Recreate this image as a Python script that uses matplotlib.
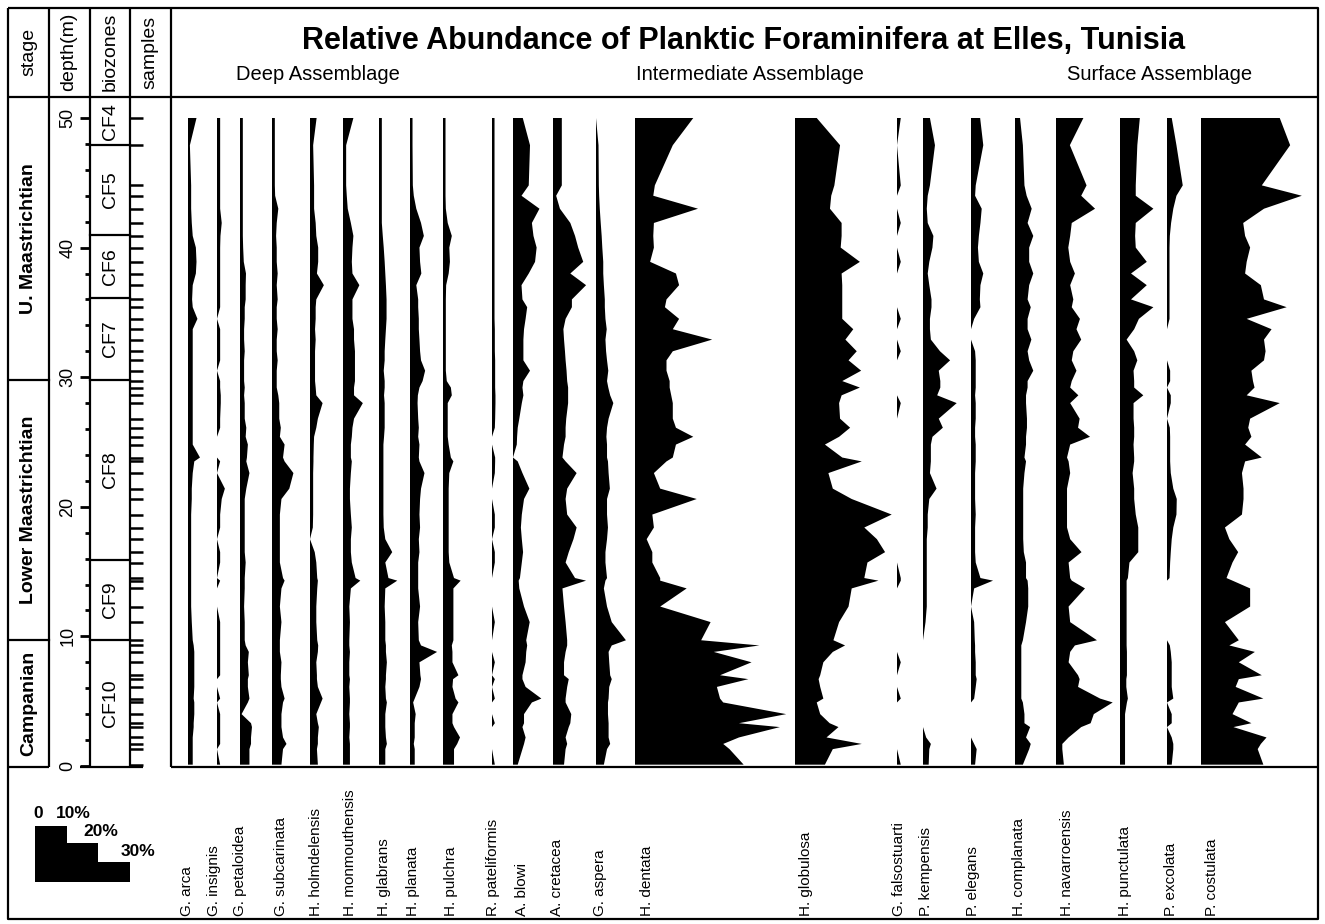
import numpy as np
import matplotlib.pyplot as plt

plt.rcParams['font.family'] = ['Liberation Sans', 'DejaVu Sans']

# sample depths (m), bottom to top
depth_m = [0.1, 1.3, 1.7, 2.2, 3.0, 3.3, 4.0, 4.9, 5.2, 6.1,
           6.7, 7.0, 8.0, 8.8, 9.3, 9.7, 11.1, 12.3, 13.7, 14.3,
           14.5, 15.7, 16.5, 17.5, 18.4, 19.4, 20.6, 21.4, 22.6, 23.5,
           23.8, 24.8, 25.4, 26.1, 26.8, 28.0, 28.6, 29.2, 29.7, 30.5,
           31.3, 32.0, 32.9, 33.7, 34.5, 35.4, 36.0, 37.1, 38.0, 38.9,
           40.0, 40.9, 41.9, 43.0, 44.0, 44.8, 47.9, 50.0]

# relative abundance (%) per species at each sample depth
g_arca = [1.5, 1.5, 1.5, 1.5, 1.8, 1.8, 2.0, 2.0, 1.8, 2.0,
          2.0, 2.0, 2.0, 2.0, 1.8, 1.5, 1.2, 1.0, 1.0, 1.0,
          1.0, 1.0, 1.0, 1.0, 1.0, 1.0, 1.2, 1.2, 1.5, 2.0,
          3.8, 1.5, 1.5, 1.5, 1.5, 1.5, 1.5, 1.5, 1.5, 1.5,
          1.5, 1.5, 1.5, 1.5, 3.0, 1.5, 1.3, 1.5, 2.5, 2.7,
          2.5, 1.5, 1.2, 1.0, 1.0, 1.0, 0.6, 2.7]
g_insignis = [1.0, 0, 1.0, 1.0, 1.0, 1.0, 1.0, 0, 1.0, 0,
              0, 1.0, 1.0, 1.0, 1.0, 1.0, 1.0, 0, 0, 1.0,
              0, 1.0, 1.0, 0, 1.0, 1.0, 1.5, 2.5, 0, 1.0,
              0, 0, 0, 1.0, 1.0, 1.2, 1.2, 1.0, 1.0, 0,
              1.0, 1.0, 1.0, 1.0, 0, 1.0, 1.0, 1.0, 1.0, 1.0,
              1.0, 1.1, 1.5, 1.0, 1.0, 1.0, 1.0, 1.0]
g_petaloidea = [3.0, 3.0, 3.5, 3.5, 3.8, 3.5, 0.5, 2.5, 3.0, 2.5,
                2.5, 2.8, 2.5, 2.8, 1.8, 1.5, 1.5, 1.3, 1.5, 1.5,
                1.5, 1.8, 1.5, 1.5, 1.5, 1.5, 1.5, 2.0, 3.0, 2.0,
                2.2, 2.5, 1.8, 2.0, 1.5, 1.5, 1.3, 1.5, 1.3, 1.3,
                1.3, 1.5, 1.3, 1.3, 1.5, 1.5, 1.8, 1.8, 1.9, 1.2,
                1.0, 0.9, 0.9, 0.9, 0.9, 0.9, 0.9, 0.9]
g_subcarinata = [3.0, 3.5, 4.6, 3.5, 3.0, 3.0, 3.0, 3.5, 4.0, 3.0,
                 2.8, 2.8, 3.0, 2.5, 2.5, 2.5, 3.0, 2.5, 3.0, 4.0,
                 3.5, 2.5, 2.5, 2.5, 2.5, 2.5, 3.0, 5.5, 6.8, 4.0,
                 3.5, 4.0, 2.5, 2.8, 2.3, 2.3, 2.0, 1.5, 1.5, 1.5,
                 1.8, 1.5, 1.5, 1.8, 1.5, 1.5, 1.8, 1.5, 1.8, 1.5,
                 1.5, 1.3, 1.5, 2.0, 1.0, 0.9, 0.9, 0.9]
h_holmdelensis = [2.5, 2.2, 2.5, 2.5, 2.8, 2.5, 2.0, 3.5, 4.0, 2.5,
                  2.2, 2.2, 2.0, 2.5, 2.6, 2.3, 2.0, 2.0, 2.3, 2.5,
                  2.3, 2.0, 1.5, 0.0, 0.9, 1.0, 1.0, 1.0, 1.0, 1.1,
                  1.1, 1.2, 1.3, 2.0, 2.5, 4.0, 2.0, 1.8, 1.6, 1.6,
                  1.6, 1.6, 1.8, 1.6, 1.8, 1.8, 2.0, 4.4, 2.2, 2.6,
                  2.6, 2.0, 1.8, 1.3, 1.3, 1.3, 1.0, 2.1]
h_monmouthensis = [2.2, 2.2, 2.2, 2.0, 2.2, 2.2, 2.0, 2.2, 2.2, 2.0,
                   2.2, 2.0, 2.0, 2.2, 2.0, 2.0, 2.2, 2.0, 2.5, 5.5,
                   4.0, 2.8, 2.5, 2.5, 2.8, 2.5, 2.2, 2.2, 2.5, 2.8,
                   2.5, 2.5, 2.8, 3.0, 3.5, 6.3, 3.5, 3.5, 3.8, 3.8,
                   3.8, 3.8, 3.5, 3.5, 3.0, 3.0, 3.0, 5.2, 3.0, 2.8,
                   3.0, 3.3, 2.5, 1.5, 1.2, 1.0, 1.0, 3.3]
h_glabrans = [2.0, 2.0, 2.5, 2.2, 2.0, 2.0, 2.0, 2.5, 2.2, 2.0,
              2.2, 2.2, 2.5, 2.2, 2.2, 2.0, 2.0, 1.8, 2.0, 5.8,
              3.0, 2.0, 4.2, 2.0, 1.5, 1.4, 1.4, 1.4, 1.4, 1.4,
              1.4, 1.4, 1.6, 1.8, 1.8, 1.8, 1.6, 1.8, 1.8, 1.5,
              1.8, 1.8, 2.0, 2.2, 2.4, 2.4, 2.4, 2.2, 2.0, 1.8,
              1.5, 1.2, 0.9, 0.9, 0.9, 0.9, 0.9, 0.9]
h_planata = [1.5, 1.5, 1.2, 1.5, 1.5, 1.5, 1.8, 1.0, 1.5, 3.0,
             3.5, 3.3, 3.0, 8.6, 3.5, 2.8, 2.6, 3.2, 2.6, 2.6,
             2.6, 2.6, 3.0, 2.8, 3.2, 3.0, 3.2, 3.5, 4.6, 3.0,
             2.8, 3.0, 2.6, 2.8, 2.6, 2.4, 2.5, 3.0, 4.0, 4.8,
             3.5, 3.2, 3.0, 2.8, 2.8, 2.6, 2.6, 2.0, 3.6, 3.2,
             3.0, 4.4, 3.5, 2.0, 1.2, 0.9, 0.8, 0.8]
h_pulchra = [3.5, 3.5, 4.5, 5.4, 3.5, 3.0, 3.0, 4.9, 4.0, 3.0,
             3.2, 4.9, 3.0, 3.0, 2.8, 3.3, 3.3, 3.3, 3.3, 5.6,
             3.5, 2.0, 1.8, 1.8, 1.8, 1.8, 1.8, 1.8, 2.0, 3.3,
             2.5, 1.8, 1.5, 1.5, 1.5, 1.5, 2.8, 2.5, 1.2, 0.9,
             0.9, 0.9, 0.9, 0.9, 0.9, 0.9, 0.9, 1.0, 1.8, 2.2,
             2.0, 2.8, 1.5, 0.9, 0.8, 0.8, 0.8, 0.8]
r_pateliformis = [0.9, 0, 0, 0, 0, 0.9, 0, 0, 0.9, 0,
                  0.9, 0, 0.9, 0, 0, 0, 0.9, 0, 0, 0,
                  0, 0.9, 0.9, 0, 0.9, 0.9, 0, 0, 0.9, 1.0,
                  1.0, 0, 0, 0.9, 1.0, 1.1, 1.1, 1.0, 1.0, 1.0,
                  1.0, 0.9, 0.9, 0.9, 0.8, 0.8, 0.8, 0.8, 0.8, 0.8,
                  0.8, 0.8, 0.8, 0.8, 0.8, 0.8, 0.8, 0.8]
a_blowi = [1.5, 3.0, 3.5, 4.0, 3.0, 3.5, 3.5, 6.0, 9.0, 4.0,
           3.0, 3.0, 4.0, 4.2, 4.5, 4.2, 5.3, 3.5, 2.0, 1.8,
           2.2, 2.8, 3.2, 2.8, 2.5, 2.8, 3.5, 5.2, 3.0, 1.5,
           0.0, 1.2, 1.3, 1.5, 2.0, 2.8, 3.3, 3.0, 3.3, 5.4,
           3.3, 3.3, 3.3, 3.5, 4.0, 4.5, 3.0, 2.7, 5.0, 7.0,
           7.5, 6.5, 6.0, 8.4, 2.7, 5.0, 5.4, 3.1]
a_cretacea = [3.5, 4.0, 4.5, 4.0, 5.0, 5.5, 5.8, 4.0, 4.0, 4.5,
              5.0, 3.5, 3.5, 4.0, 4.5, 4.5, 4.0, 3.5, 3.0, 10.5,
              7.0, 4.0, 5.0, 6.5, 7.5, 4.5, 4.0, 4.5, 7.5, 4.0,
              3.0, 3.5, 4.0, 4.0, 4.2, 4.8, 4.8, 4.8, 4.5, 4.3,
              4.0, 3.8, 3.5, 3.3, 4.0, 6.0, 6.0, 10.5, 5.5, 9.6,
              8.0, 7.0, 5.5, 2.2, 1.0, 2.8, 2.8, 2.8]
g_aspera = [2.5, 3.5, 4.5, 4.0, 4.0, 4.0, 3.8, 3.8, 4.0, 4.2,
            5.0, 4.5, 4.2, 4.0, 5.0, 9.5, 5.0, 3.5, 2.5, 3.0,
            3.5, 3.0, 3.0, 3.5, 3.8, 3.5, 3.5, 4.4, 4.0, 3.8,
            3.5, 3.5, 3.3, 3.5, 4.0, 5.5, 4.5, 3.9, 3.5, 3.9,
            3.5, 3.2, 3.0, 3.4, 3.0, 2.8, 2.8, 2.5, 2.3, 2.3,
            2.0, 1.8, 1.5, 1.2, 1.0, 0.9, 0.8, 0.0]
h_dentata = [34.5, 30.0, 28.0, 33.0, 46.0, 33.0, 48.0, 28.0, 27.0, 26.0,
             36.0, 27.0, 37.0, 25.0, 39.5, 21.0, 24.0, 8.0, 16.4, 8.0,
             8.0, 5.5, 5.5, 3.7, 6.0, 5.5, 19.6, 8.0, 6.0, 10.0,
             12.0, 13.0, 18.5, 13.0, 12.0, 12.0, 11.5, 11.0, 11.0, 10.0,
             10.0, 12.0, 24.5, 12.0, 14.0, 9.5, 10.0, 14.0, 13.0, 4.8,
             6.0, 5.8, 6.0, 20.0, 5.8, 6.3, 12.0, 18.5]
h_globulosa = [9.5, 12.0, 21.2, 10.0, 13.8, 11.0, 8.0, 6.9, 9.0, 8.0,
               7.5, 8.0, 9.0, 12.0, 15.9, 12.2, 14.0, 17.0, 18.0, 26.5,
               22.0, 23.0, 28.6, 26.0, 22.0, 30.7, 18.0, 12.0, 10.6, 21.2,
               15.0, 9.5, 14.0, 17.5, 14.3, 14.0, 14.8, 20.6, 15.0, 21.0,
               17.0, 19.6, 16.0, 18.5, 15.0, 15.0, 15.0, 15.0, 14.8, 20.6,
               14.5, 14.8, 14.8, 11.1, 11.5, 12.5, 14.3, 6.9]
g_falsostuarti = [1.2, 0, 0, 0, 0, 0, 0, 0, 1.2, 0,
                  0, 0, 1.2, 0, 0, 0, 0, 0, 0, 1.2,
                  1.2, 0, 0, 0, 0, 0, 0, 0, 0, 0,
                  0, 0, 0, 0, 0, 1.2, 0, 0, 0, 0,
                  0, 1.2, 0, 0, 1.2, 0, 0, 0, 0, 1.2,
                  0, 0, 1.2, 0, 0, 1.2, 0, 1.2]
p_kempensis = [1.8, 2.0, 2.5, 1.0, 0, 0, 0, 0, 0, 0,
               0, 0, 0, 0, 0, 0, 0.8, 1.2, 1.2, 1.2,
               1.2, 1.2, 1.2, 1.2, 1.5, 1.5, 2.0, 4.3, 2.2, 2.5,
               2.5, 2.5, 3.0, 6.3, 5.0, 10.7, 4.5, 5.5, 5.5, 5.0,
               8.6, 5.4, 2.5, 2.2, 2.2, 2.7, 2.7, 2.0, 1.5, 2.0,
               3.0, 3.3, 1.5, 1.2, 1.5, 2.2, 3.8, 2.2]
p_elegans = [1.3, 1.8, 1.0, 0, 0, 0, 0, 0, 1.0, 1.5,
             1.8, 1.5, 1.5, 1.3, 1.3, 1.2, 1.0, 0, 1.0, 7.0,
             3.0, 1.5, 1.3, 1.3, 1.3, 1.5, 1.3, 1.3, 1.3, 1.5,
             1.5, 1.5, 1.3, 1.3, 1.5, 1.5, 1.3, 1.5, 1.5, 1.5,
             1.5, 1.3, 0, 0, 1.0, 3.0, 2.8, 3.0, 3.9, 2.5,
             2.2, 2.5, 3.0, 3.4, 1.3, 1.5, 3.9, 2.9]
h_complanata = [2.5, 4.5, 5.0, 3.5, 4.8, 3.0, 3.0, 2.5, 2.0, 2.0,
                2.0, 2.0, 2.0, 2.0, 2.0, 2.5, 3.5, 4.2, 4.2, 4.0,
                3.5, 3.5, 2.8, 2.6, 2.6, 2.6, 2.6, 2.6, 3.0, 3.5,
                3.0, 3.5, 3.5, 3.8, 3.8, 3.5, 3.5, 4.0, 4.0, 5.8,
                4.5, 4.0, 5.2, 4.0, 4.0, 5.0, 4.0, 4.5, 5.8, 4.5,
                4.5, 5.8, 4.0, 5.3, 3.7, 3.0, 2.5, 1.6]
h_navarroensis = [2.5, 2.0, 2.0, 4.0, 8.0, 11.0, 12.0, 18.0, 14.0, 7.0,
                  7.5, 7.0, 4.0, 4.5, 6.0, 13.0, 4.5, 4.0, 9.2, 5.0,
                  4.5, 4.0, 8.1, 4.5, 3.5, 3.5, 3.5, 3.5, 4.5, 4.0,
                  3.5, 4.5, 10.8, 7.0, 7.5, 4.5, 7.1, 4.5, 5.0, 6.5,
                  5.0, 5.5, 8.0, 6.5, 7.6, 5.0, 5.5, 4.5, 6.0, 4.5,
                  3.9, 4.5, 5.0, 12.4, 8.0, 9.7, 4.4, 8.7]
h_punctulata = [1.6, 1.6, 1.6, 1.6, 1.6, 1.6, 1.6, 2.2, 2.5, 2.0,
                2.0, 2.2, 2.2, 2.2, 2.1, 2.1, 2.1, 2.1, 2.1, 2.1,
                2.5, 3.0, 5.8, 5.8, 5.8, 5.0, 4.5, 4.5, 4.0, 4.5,
                4.5, 4.3, 4.5, 4.5, 4.3, 4.3, 7.4, 4.5, 4.5, 4.3,
                5.5, 4.5, 2.1, 4.5, 6.0, 10.6, 3.5, 8.5, 3.5, 8.5,
                5.0, 4.8, 5.0, 10.6, 5.0, 5.0, 5.5, 6.3]
p_excolata = [1.5, 2.0, 2.0, 1.5, 0, 1.5, 1.5, 0, 2.0, 1.5,
              1.5, 1.5, 1.5, 1.2, 0.9, 0, 0, 0, 0, 0,
              0.8, 1.0, 1.2, 1.5, 2.0, 3.0, 3.1, 2.0, 1.2, 1.0,
              1.0, 1.0, 1.0, 0.9, 0, 1.2, 1.2, 0, 1.0, 1.0,
              0, 0, 0, 0, 0.8, 0.8, 0.8, 0.8, 0.8, 0.8,
              0.8, 0.9, 1.3, 2.0, 3.0, 5.0, 3.0, 1.5]
p_costulata = [19.8, 18.0, 19.0, 20.8, 10.3, 16.0, 10.0, 12.0, 19.8, 11.0,
               12.0, 19.3, 12.0, 17.1, 9.0, 12.0, 7.6, 15.6, 15.6, 10.0,
               8.1, 10.0, 11.8, 9.0, 7.6, 13.0, 13.5, 13.5, 13.0, 14.0,
               19.3, 14.0, 16.0, 15.0, 15.6, 25.0, 14.5, 17.0, 16.5, 16.0,
               20.0, 20.5, 20.0, 22.4, 14.5, 27.2, 20.0, 19.0, 14.0, 14.5,
               15.6, 14.0, 13.4, 20.0, 32.0, 19.3, 28.3, 25.0]

species = ['G. arca', 'G. insignis', 'G. petaloidea', 'G. subcarinata',
           'H. holmdelensis', 'H. monmouthensis', 'H. glabrans', 'H. planata',
           'H. pulchra', 'R. pateliformis', 'A. blowi', 'A. cretacea',
           'G. aspera', 'H. dentata', 'H. globulosa', 'G. falsostuarti',
           'P. kempensis', 'P. elegans', 'H. complanata', 'H. navarroensis',
           'H. punctulata', 'P. excolata', 'P. costulata']
abundance = [g_arca, g_insignis, g_petaloidea, g_subcarinata, h_holmdelensis,
             h_monmouthensis, h_glabrans, h_planata, h_pulchra, r_pateliformis,
             a_blowi, a_cretacea, g_aspera, h_dentata, h_globulosa,
             g_falsostuarti, p_kempensis, p_elegans, h_complanata,
             h_navarroensis, h_punctulata, p_excolata, p_costulata]

stages = ['Campanian', 'Lower Maastrichtian', 'U. Maastrichtian']
stage_tops = [9.7, 29.8, 51.6]
zones = ['CF10', 'CF9', 'CF8', 'CF7', 'CF6', 'CF5', 'CF4']
zone_tops = [9.7, 15.9, 29.8, 36.1, 41.0, 47.9, 51.6]
assemblages = ['Deep Assemblage', 'Intermediate Assemblage', 'Surface Assemblage']

# ---- layout in pixels of the 1325 x 924 canvas ----
W, H = 1325, 924
PX_PER_PCT = 3.15           # 10 % = 31.5 px
col_px = [188, 217, 240, 272, 310, 343, 379, 410, 443, 492, 513, 553, 596,
          635, 795, 897, 923, 971, 1015, 1056, 1120, 1167, 1201]
label_px = [187, 214, 240, 281, 316, 350, 384, 413, 451, 493, 522, 557, 600,
            647, 806, 899, 926, 973, 1019, 1067, 1125, 1171, 1212]
assemblage_px = [318, 750, 1160]
YLIM = (-0.08, 51.62)
LW = 1.6

fig = plt.figure(figsize=(W / 100, H / 100), dpi=100)


def frac(x0, y0, x1, y1):
    return [x0 / W, 1 - y1 / H, (x1 - x0) / W, (y1 - y0) / H]


bg = fig.add_axes([0, 0, 1, 1])
bg.set_xlim(0, W)
bg.set_ylim(H, 0)
bg.axis('off')

# frame and column rules
k = dict(color='black', lw=LW, solid_capstyle='butt')
bg.plot([8, 1318, 1318, 8, 8], [8, 8, 919, 919, 8], **k)
bg.plot([8, 1318], [97, 97], **k)
bg.plot([49, 49], [8, 767], **k)
bg.plot([90, 90], [8, 767], **k)
bg.plot([130, 130], [8, 767], **k)
bg.plot([171, 171], [8, 767], **k)
bg.plot([8, 49], [767, 767], **k)
bg.plot([80, 143], [767, 767], **k)
bg.plot([171, 1318], [767, 767], **k)

# header texts
for x, t in zip([29, 69, 110, 150], ['stage', 'depth(m)', 'biozones', 'samples']):
    bg.text(x, 52, t, rotation=90, ha='center', va='center', fontsize=14)
bg.text(744, 41, 'Relative Abundance of Planktic Foraminifera at Elles, Tunisia',
        ha='center', va='center', fontsize=22, fontweight='bold')
for x, t in zip(assemblage_px, assemblages):
    bg.text(x, 75, t, ha='center', va='center', fontsize=14.5)

# species names
for x, t in zip(label_px, species):
    bg.text(x, 916, t, rotation=90, ha='center', va='bottom', fontsize=11)

# scale legend
step = 10 * PX_PER_PCT
xs = [35 + i * step for i in range(4)]
ys = [826, 843, 862, 882]
poly_x = [xs[0], xs[1], xs[1], xs[2], xs[2], xs[3], xs[3], xs[0]]
poly_y = [ys[0], ys[0], ys[1], ys[1], ys[2], ys[2], ys[3], ys[3]]
bg.fill(poly_x, poly_y, color='black', lw=0)
for x, y, t in [(38, 813, '0'), (73, 813, '10%'), (101, 832, '20%'), (138, 852, '30%')]:
    bg.text(x, y, t, ha='center', va='center', fontsize=12.5, fontweight='bold')

# left columns in depth coordinates
left = fig.add_axes(frac(8, 97, 171, 767))
left.set_xlim(8, 171)
left.set_ylim(*YLIM)
left.axis('off')
for d in range(0, 51, 2):
    left.plot([80 if d % 10 == 0 else 85, 90], [d, d], color='black', lw=2, solid_capstyle='butt')
    if d % 10 == 0:
        left.text(68, d, str(d), rotation=90, ha='center', va='center', fontsize=13)
for d in depth_m:
    left.plot([130, 143], [d, d], color='black', lw=1.8, solid_capstyle='butt')
bottoms = [0] + zone_tops[:-1]
for name, b, t in zip(zones, bottoms, zone_tops):
    if t < 51:
        left.plot([90, 130], [t, t], color='black', lw=LW)
    left.text(110, (b + t) / 2, name, rotation=90, ha='center', va='center', fontsize=14)
sb = [0] + stage_tops[:-1]
for name, b, t in zip(stages, sb, stage_tops):
    if t < 51:
        left.plot([8, 49], [t, t], color='black', lw=LW)
    left.text(29, (b + t) / 2, name, rotation=90, ha='center', va='center',
              fontsize=14, fontweight='bold')

# abundance silhouettes
ax = fig.add_axes(frac(171, 97, 1318, 767))
ax.set_xlim(0, (1318 - 171) / PX_PER_PCT)
ax.set_ylim(*YLIM)
ax.axis('off')
for px, vals in zip(col_px, abundance):
    x0 = (px - 171) / PX_PER_PCT
    ax.fill_betweenx(depth_m, x0, x0 + np.array(vals), facecolor='black', lw=0)

fig.savefig('out.png', dpi=100)
